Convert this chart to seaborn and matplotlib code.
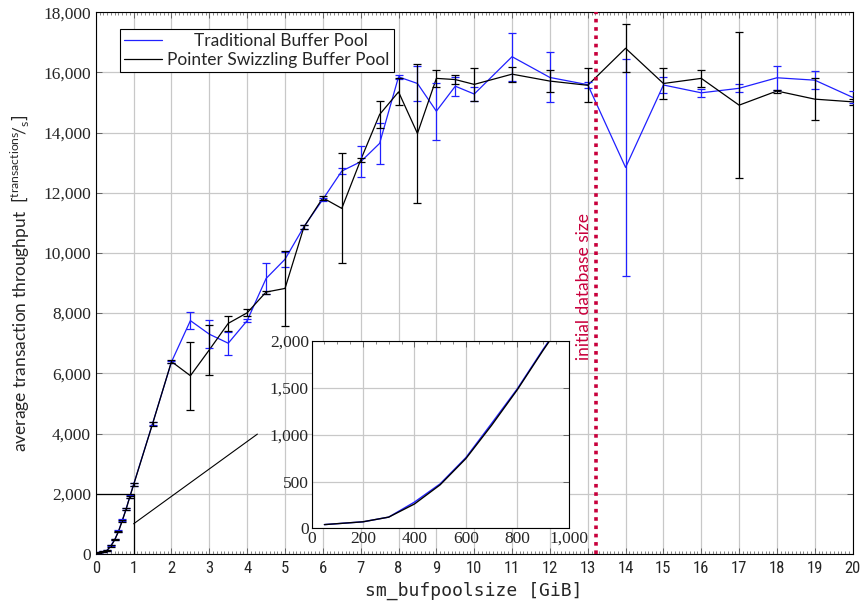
import matplotlib
matplotlib.use("Agg")
import matplotlib.pyplot as plt
import matplotlib.ticker as mticker
from matplotlib import font_manager
from matplotlib.lines import Line2D
import seaborn as sns
import pandas as pd

# ---- data ----
x_gib = [0.05, 0.2, 0.3, 0.4, 0.5, 0.6, 0.7, 0.8, 0.9, 1.0, 1.5, 2, 2.5, 3, 3.5, 4,
         4.5, 5, 5.5, 6, 6.5, 7, 7.5, 8, 8.5, 9, 9.5, 10, 11, 12, 13, 14, 15, 16,
         17, 18, 19, 20]
trad_mean = [40, 70, 120, 280, 475, 755, 1120, 1490, 1910, 2310, 4330, 6380, 7750,
             7300, 7000, 7750, 9150, 9790, 10870, 11780, 12720, 13030, 13640, 15850,
             15630, 14710, 15540, 15280, 16520, 15830, 15590, 12840, 15580, 15320,
             15470, 15820, 15740, 15170]
trad_err = [10, 10, 15, 20, 20, 25, 30, 30, 40, 40, 60, 40, 280, 460, 380, 60, 510,
            250, 70, 60, 100, 520, 670, 60, 580, 950, 310, 230, 800, 830, 100, 3620,
            250, 130, 130, 400, 300, 200]
swiz_mean = [40, 70, 120, 260, 465, 745, 1100, 1480, 1900, 2300, 4320, 6390, 5920,
             6780, 7660, 8010, 8700, 8820, 10860, 11830, 11480, 13090, 14600, 15350,
             13970, 15800, 15760, 15600, 15940, 15710, 15570, 16800, 15630, 15800,
             14910, 15380, 15110, 15020]
swiz_err = [10, 10, 15, 20, 20, 25, 30, 30, 40, 40, 60, 40, 1130, 830, 250, 120, 50,
            1250, 70, 60, 1830, 80, 460, 450, 2300, 280, 150, 550, 250, 370, 560, 800,
            500, 280, 2420, 50, 700, 100]
series_names = ["Traditional Buffer Pool", "Pointer Swizzling Buffer Pool"]
db_size_gib = 13.23
db_label = "initial database size"
x_ticks = list(range(0, 21))
y_ticks = list(range(0, 18001, 2000))
inset_xticks = [0, 200, 400, 600, 800, 1000]
inset_yticks = [0, 500, 1000, 1500, 2000]

BLUE = "#2020ff"
BLACK = "#000000"
RED = "#c8003c"

avail = {f.name for f in font_manager.fontManager.ttflist}
def pick(*names):
    for n in names:
        if n in avail:
            return n
    return "DejaVu Sans"

serif = pick("Liberation Serif", "DejaVu Serif")
narrow = pick("Liberation Sans Narrow", "Roboto Condensed", "Liberation Sans")
sansf = pick("Lato", "Open Sans", "DejaVu Sans")
mono = pick("DejaVu Sans Mono", "Liberation Mono")

sns.set_theme(style="whitegrid")
plt.rcParams["font.family"] = [sansf, "DejaVu Sans"]
plt.rcParams["mathtext.fontset"] = "custom"
plt.rcParams["mathtext.rm"] = sansf

df = pd.concat([
    pd.DataFrame({"x": x_gib, "y": trad_mean, "err": trad_err, "series": series_names[0]}),
    pd.DataFrame({"x": x_gib, "y": swiz_mean, "err": swiz_err, "series": series_names[1]}),
])

fig = plt.figure(figsize=(8.63, 6.08), dpi=100)
ax = fig.add_axes([0.111, 0.089, 0.877, 0.891])

palette = {series_names[0]: BLUE, series_names[1]: BLACK}
sns.lineplot(data=df, x="x", y="y", hue="series", palette=palette, ax=ax,
             linewidth=0.9, legend=False, sort=False, zorder=3)
for name in series_names:
    d = df[df["series"] == name]
    ax.errorbar(d["x"], d["y"], yerr=d["err"], fmt="none", ecolor=palette[name],
                elinewidth=0.9, capsize=3, capthick=0.9, zorder=3)

ax.set_xlim(0, 20)
ax.set_ylim(0, 18000)
ax.set_xticks(x_ticks)
ax.set_yticks(y_ticks)
ax.xaxis.set_minor_locator(mticker.MultipleLocator(0.1))
ax.yaxis.set_major_formatter(mticker.FuncFormatter(lambda v, p: f"{int(v):,}"))
ax.grid(True, which="major", color="#c8c8c8", linewidth=0.9)
ax.grid(False, which="minor")
for s in ax.spines.values():
    s.set_color("black")
    s.set_linewidth(0.8)
ax.tick_params(which="both", direction="in", top=True, right=True, bottom=True, left=True,
               color="#555555")
ax.tick_params(which="major", length=4, width=0.6)
ax.tick_params(which="minor", length=2, width=0.5)
ax.tick_params(axis="x", pad=5)
for lab in ax.get_xticklabels():
    lab.set_fontfamily(narrow)
    lab.set_fontsize(12)
for lab in ax.get_yticklabels():
    lab.set_fontfamily(serif)
    lab.set_fontsize(12.5)

ax.set_xlabel("sm_bufpoolsize [GiB]", fontfamily=mono, fontsize=13, labelpad=4)
ax.set_ylabel(r"average transaction throughput  $\left[{}^{\mathrm{transactions}}\!/_{\mathrm{s}}\right]$",
              fontsize=12.5, labelpad=8)

# initial database size
ax.axvline(db_size_gib, color=RED, linestyle=(0, (1, 1.3)), linewidth=2.6, zorder=4)
ax.text(db_size_gib - 0.12, 8900, db_label, rotation=90, color=RED, fontsize=12.5,
        ha="right", va="center", zorder=4)

# zoom box and connector
ax.plot([0, 1, 1], [2000, 2000, 0], color="black", linewidth=0.9, zorder=4)
ax.plot([1.0, 4.27], [1000, 3980], color="black", linewidth=0.8, zorder=4)

# legend
handles = [Line2D([], [], color=BLUE, lw=0.9), Line2D([], [], color=BLACK, lw=0.9)]
labels = ["      " + series_names[0], series_names[1]]
leg = ax.legend(handles, labels, loc="upper left", bbox_to_anchor=(0.02, 0.985),
                frameon=True, fancybox=False, edgecolor="black", framealpha=1,
                fontsize=12.5, handlelength=2.2, handletextpad=0.3, borderpad=0.25,
                labelspacing=0.15)
leg.get_frame().set_linewidth(0.8)

# inset
axin = fig.add_axes([0.361, 0.131, 0.298, 0.308])
sns.lineplot(data=df.assign(mb=df["x"] * 1000), x="mb", y="y", hue="series",
             palette=palette, ax=axin, linewidth=1.0, legend=False, sort=False)
axin.set_xlim(0, 1000)
axin.set_ylim(0, 2000)
axin.set_xticks(inset_xticks)
axin.set_yticks(inset_yticks)
axin.xaxis.set_minor_locator(mticker.MultipleLocator(50))
axin.yaxis.set_major_formatter(mticker.FuncFormatter(lambda v, p: f"{int(v):,}"))
axin.xaxis.set_major_formatter(mticker.FuncFormatter(lambda v, p: f"{int(v):,}"))
axin.grid(True, which="major", color="#c8c8c8", linewidth=0.9)
axin.grid(False, which="minor")
axin.set_facecolor("white")
for s in axin.spines.values():
    s.set_color("black")
    s.set_linewidth(0.8)
axin.tick_params(which="both", direction="in", top=True, right=True, color="#555555")
axin.tick_params(which="major", length=4, width=0.6, pad=2)
axin.tick_params(which="minor", length=2, width=0.5)
axin.set_xlabel("")
axin.set_ylabel("")
for lab in axin.get_xticklabels() + axin.get_yticklabels():
    lab.set_fontfamily(serif)
    lab.set_fontsize(12.5)

fig.savefig("out.png", dpi=100)
